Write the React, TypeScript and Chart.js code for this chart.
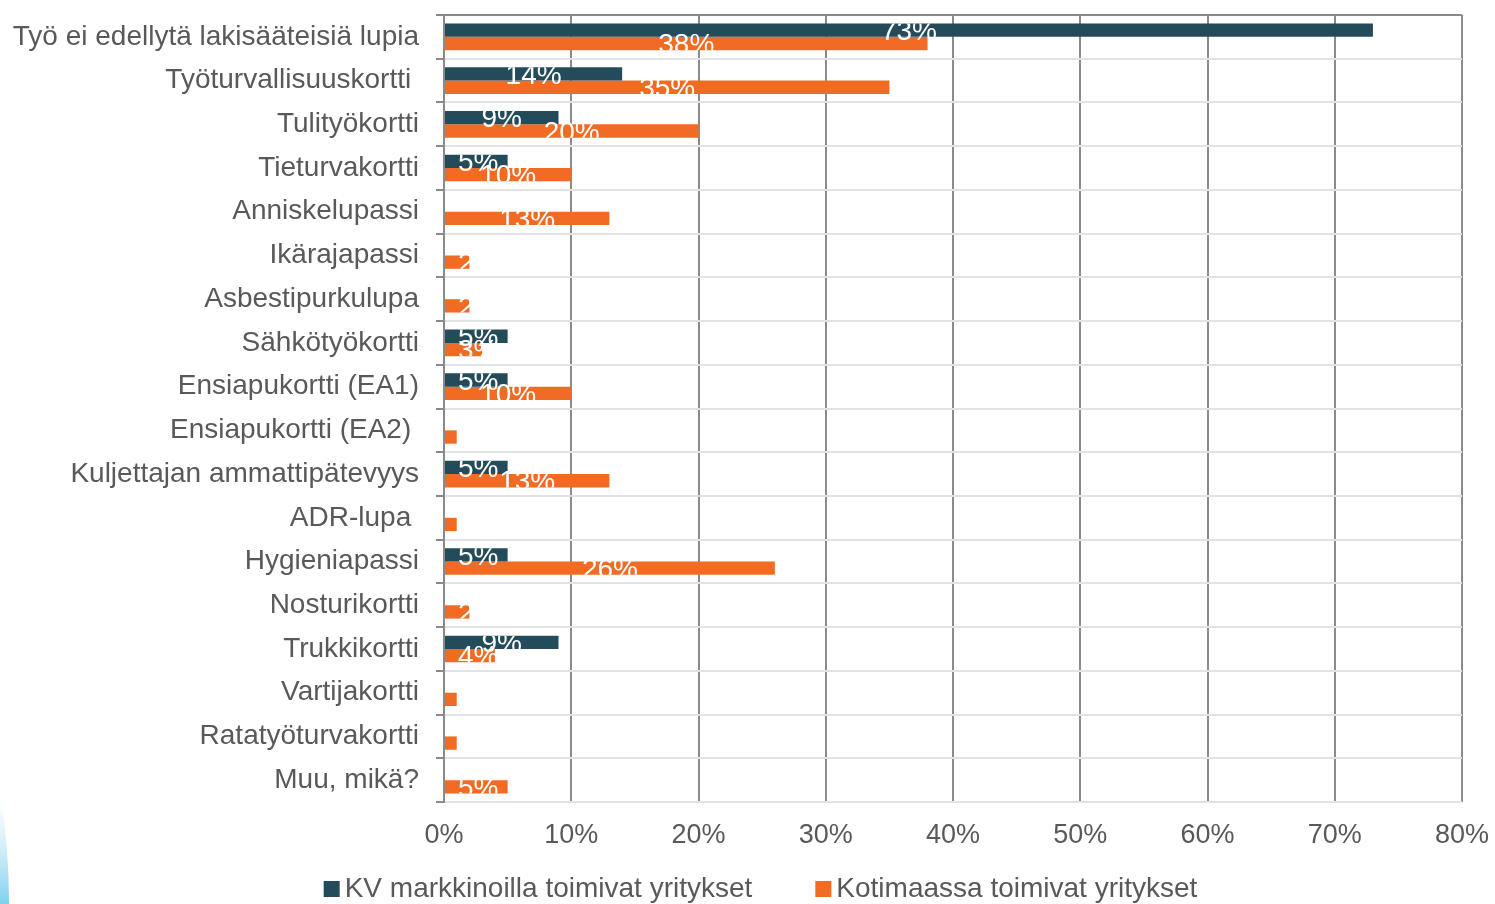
import React, { useEffect, useRef } from "react";
import { Chart, registerables } from "chart.js";

Chart.register(...registerables);

const categories = [
  "Työ ei edellytä lakisääteisiä lupia",
  "Työturvallisuuskortti ",
  "Tulityökortti",
  "Tieturvakortti",
  "Anniskelupassi",
  "Ikärajapassi",
  "Asbestipurkulupa",
  "Sähkötyökortti",
  "Ensiapukortti (EA1)",
  "Ensiapukortti (EA2) ",
  "Kuljettajan ammattipätevyys",
  "ADR-lupa ",
  "Hygieniapassi",
  "Nosturikortti",
  "Trukkikortti",
  "Vartijakortti",
  "Ratatyöturvakortti",
  "Muu, mikä?",
];

const kvValues = [73, 14, 9, 5, 0, 0, 0, 5, 5, 0, 5, 0, 5, 0, 9, 0, 0, 0];
const kotimaaValues = [38, 35, 20, 10, 13, 2, 2, 3, 10, 1, 13, 1, 26, 2, 4, 1, 1, 5];

const seriesNames = ["KV markkinoilla toimivat yritykset", "Kotimaassa toimivat yritykset"];
const seriesColors = ["#244B5A", "#F26B22"];

const xTicks = [0, 10, 20, 30, 40, 50, 60, 70, 80];

const FONT = '"Liberation Sans", Arial, sans-serif';
const TEXT = "#595959";

const barLabels = {
  id: "barLabels",
  afterDatasetsDraw(chart: any) {
    const { ctx, chartArea } = chart;
    const m0 = chart.getDatasetMeta(0);
    const m1 = chart.getDatasetMeta(1);
    ctx.save();
    ctx.font = `28px ${FONT}`;
    ctx.fillStyle = "#ffffff";
    ctx.textBaseline = "middle";
    ctx.textAlign = "left";
    chart.data.labels.forEach((_: any, i: number) => {
      const e0 = m0.data[i];
      const e1 = m1.data[i];
      const top = e0.y - e0.height / 2;
      const bottom = e1.y + e1.height / 2;
      ctx.save();
      ctx.beginPath();
      ctx.rect(chartArea.left, top, chartArea.right - chartArea.left, bottom - top);
      ctx.clip();
      [0, 1].forEach((d) => {
        const v = chart.data.datasets[d].data[i];
        if (!v) return;
        const el = d ? e1 : e0;
        const text = `${v}%`;
        const w = ctx.measureText(text).width;
        const cx = (el.base + el.x) / 2;
        const x = Math.max(cx - w / 2, chartArea.left + 14);
        ctx.fillText(text, x, el.y + 2);
      });
      ctx.restore();
    });
    ctx.restore();
  },
};

const customLegend = {
  id: "customLegend",
  afterDraw(chart: any) {
    const { ctx } = chart;
    const box = 16;
    const gap = 5;
    const spacing = 63;
    const y = 889;
    ctx.save();
    ctx.font = `28px ${FONT}`;
    const items = chart.data.datasets.map((ds: any) => ({
      text: ds.label,
      color: ds.backgroundColor,
      w: ctx.measureText(ds.label).width,
    }));
    const total =
      items.reduce((s: number, it: any) => s + box + gap + it.w, 0) + spacing * (items.length - 1);
    let x = chart.width / 2 + 13 - total / 2;
    ctx.textBaseline = "middle";
    ctx.textAlign = "left";
    items.forEach((it: any) => {
      ctx.fillStyle = it.color;
      ctx.fillRect(x, y - box / 2, box, box);
      ctx.fillStyle = TEXT;
      ctx.fillText(it.text, x + box + gap, y);
      x += box + gap + it.w + spacing;
    });
    ctx.restore();
  },
};

export default function App() {
  const ref = useRef<HTMLCanvasElement | null>(null);

  useEffect(() => {
    document.body.style.margin = "0";
    if (!ref.current) return;
    const chart = new Chart(ref.current, {
      type: "bar",
      data: {
        labels: categories,
        datasets: [
          {
            label: seriesNames[0],
            data: kvValues,
            backgroundColor: seriesColors[0],
            borderWidth: 0,
            categoryPercentage: 0.61,
            barPercentage: 1,
          },
          {
            label: seriesNames[1],
            data: kotimaaValues,
            backgroundColor: seriesColors[1],
            borderWidth: 0,
            categoryPercentage: 0.61,
            barPercentage: 1,
          },
        ],
      },
      options: {
        indexAxis: "y",
        responsive: false,
        animation: false,
        devicePixelRatio: 1,
        layout: { padding: { top: 15, right: 33, left: 0, bottom: 0 } },
        plugins: {
          legend: { display: false },
          tooltip: { enabled: false },
        },
        scales: {
          x: {
            min: 0,
            max: 80,
            afterBuildTicks: (scale: any) => {
              scale.ticks = xTicks.map((v) => ({ value: v }));
            },
            afterFit: (scale: any) => {
              scale.height = 102;
              scale.paddingLeft = 0;
              scale.paddingRight = 0;
            },
            ticks: {
              callback: (v: any) => `${v}%`,
              color: TEXT,
              font: { family: FONT, size: 27 },
              padding: 17,
              maxRotation: 0,
            },
            grid: {
              color: "#8a8a8a",
              lineWidth: 2,
              drawTicks: false,
            },
            border: { display: false },
          },
          y: {
            type: "category",
            offset: true,
            afterFit: (scale: any) => {
              scale.width = 444;
              scale.paddingTop = 0;
              scale.paddingBottom = 0;
            },
            ticks: {
              color: TEXT,
              font: { family: FONT, size: 28 },
              padding: 17,
              autoSkip: false,
            },
            grid: {
              offset: true,
              color: (c: any) => (c.index === 0 ? "#8a8a8a" : "#e3e3e3"),
              lineWidth: 2,
              drawTicks: true,
              tickLength: 8,
              tickColor: "#8a8a8a",
              tickWidth: 2,
            },
            border: { display: true, color: "#8a8a8a", width: 2 },
          },
        },
      },
      plugins: [barLabels, customLegend],
    } as any);
    return () => chart.destroy();
  }, []);

  return (
    <div style={{ position: "relative", width: 1495, height: 904, background: "#fff", overflow: "hidden" }}>
      <canvas ref={ref} width={1495} height={904} style={{ display: "block", width: 1495, height: 904 }} />
      <svg
        width={30}
        height={120}
        style={{ position: "absolute", left: 0, top: 784, pointerEvents: "none" }}
      >
        <defs>
          <linearGradient id="deco" x1="0" y1="0" x2="0" y2="1">
            <stop offset="0" stopColor="#bfe8f7" stopOpacity="0" />
            <stop offset="1" stopColor="#7fd0ef" stopOpacity="1" />
          </linearGradient>
        </defs>
        <path d="M0,10 Q9,60 9,120 L0,120 Z" fill="url(#deco)" />
      </svg>
    </div>
  );
}
